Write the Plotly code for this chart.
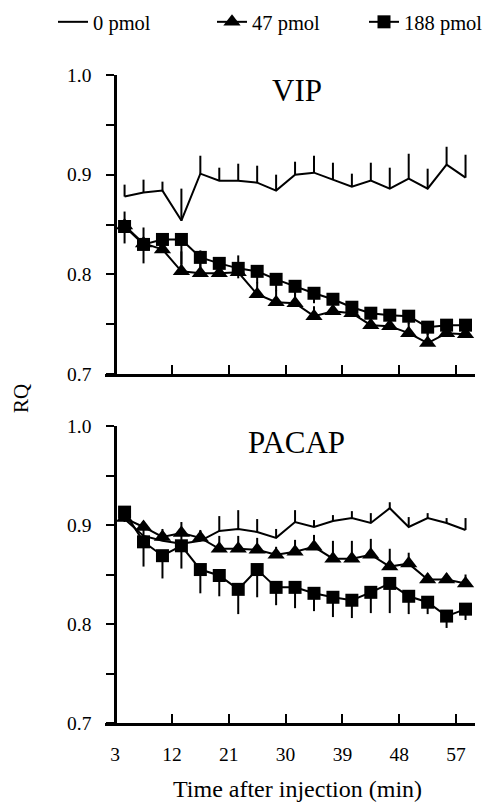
import plotly.graph_objects as go
from plotly.subplots import make_subplots

# time points (min after injection)
time_min = [4.5, 7.5, 10.5, 13.5, 16.5, 19.5, 22.5, 25.5, 28.5, 31.5,
            34.5, 37.5, 40.5, 43.5, 46.5, 49.5, 52.5, 55.5, 58.5]

# VIP panel
vip_0 = [0.878, 0.882, 0.884, 0.854, 0.901, 0.894, 0.894, 0.892, 0.884, 0.900,
         0.902, 0.895, 0.888, 0.894, 0.886, 0.896, 0.886, 0.910, 0.897]
vip_0_err = [0.012, 0.013, 0.009, 0.032, 0.018, 0.013, 0.017, 0.017, 0.016, 0.013,
             0.017, 0.017, 0.013, 0.018, 0.021, 0.025, 0.020, 0.018, 0.023]
vip_47 = [0.849, 0.831, 0.825, 0.803, 0.801, 0.801, 0.802, 0.780, 0.772, 0.771,
          0.758, 0.763, 0.761, 0.749, 0.748, 0.741, 0.731, 0.741, 0.740]
vip_47_err = [0.014, 0.016, 0.008, 0.020, 0.023, 0.008, 0.017, 0.012, 0.012, 0.012,
              0.010, 0.010, 0.010, 0.010, 0.010, 0.010, 0.010, 0.010, 0.008]
vip_188 = [0.848, 0.830, 0.835, 0.835, 0.817, 0.811, 0.806, 0.803, 0.795, 0.788,
           0.781, 0.775, 0.767, 0.761, 0.759, 0.758, 0.747, 0.749, 0.749]
vip_188_err = [0.017, 0.019, 0.010, 0.025, 0.010, 0.010, 0.010, 0.012, 0.012, 0.012,
               0.010, 0.010, 0.008, 0.008, 0.008, 0.008, 0.008, 0.006, 0.006]

# PACAP panel
pacap_0 = [0.906, 0.889, 0.884, 0.881, 0.884, 0.894, 0.896, 0.893, 0.887, 0.903,
           0.898, 0.904, 0.907, 0.902, 0.917, 0.898, 0.907, 0.902, 0.895]
pacap_0_err = [0.008, 0.010, 0.008, 0.010, 0.010, 0.015, 0.019, 0.013, 0.009, 0.012,
               0.007, 0.006, 0.007, 0.010, 0.006, 0.010, 0.005, 0.005, 0.012]
pacap_47 = [0.907, 0.898, 0.888, 0.892, 0.887, 0.876, 0.876, 0.875, 0.870, 0.873,
            0.878, 0.866, 0.866, 0.870, 0.858, 0.861, 0.845, 0.845, 0.841]
pacap_47_err = [0.008, 0.006, 0.008, 0.011, 0.008, 0.013, 0.013, 0.012, 0.008, 0.012,
                0.012, 0.018, 0.018, 0.016, 0.018, 0.011, 0.006, 0.006, 0.009]
pacap_188 = [0.913, 0.883, 0.869, 0.879, 0.855, 0.849, 0.835, 0.855, 0.837, 0.837,
             0.831, 0.827, 0.824, 0.832, 0.841, 0.828, 0.822, 0.808, 0.815]
pacap_188_err = [0.010, 0.025, 0.023, 0.023, 0.024, 0.021, 0.025, 0.028, 0.018, 0.021,
                 0.018, 0.020, 0.018, 0.021, 0.030, 0.018, 0.012, 0.012, 0.011]

x_ticks = [3, 12, 21, 30, 39, 48, 57]
y_ticks = [0.7, 0.75, 0.8, 0.85, 0.9, 0.95, 1.0]
y_ticktext = ["0.7", "", "0.8", "", "0.9", "", "1.0"]

FONT = "Liberation Serif"
# page body has an 8px margin, so the figure is drawn 8px smaller and shifted
PAGE_OFF = 8
W, H = 491 - PAGE_OFF, 802 - PAGE_OFF
X_RANGE = [1.4, 60.0]

R_MARGIN = 16
AREA_W = W - R_MARGIN


def px_x(p):
    # page pixel -> paper x
    return (p - PAGE_OFF) / AREA_W


def px_y(p):
    # page pixel -> paper y
    return 1 - (p - PAGE_OFF) / H


x_dom = [px_x(105), 1.0]
top_dom = [px_y(374), px_y(75)]
bot_dom = [px_y(723), px_y(426)]

fig = make_subplots(rows=2, cols=1)


def add_panel(row, d0, e0, d47, e47, d188, e188, show):
    # 0 pmol: plain line, upward error bars
    fig.add_trace(go.Scatter(
        x=time_min, y=d0, mode="lines", name="0 pmol", showlegend=show, legend="legend",
        line=dict(color="black", width=2),
        error_y=dict(type="data", symmetric=False, array=e0,
                     arrayminus=[0] * len(e0), color="black", thickness=2, width=0)
    ), row=row, col=1)
    # 47 pmol: triangles, upward error bars
    fig.add_trace(go.Scatter(
        x=time_min, y=d47, mode="lines+markers", name="47 pmol", showlegend=show,
        legend="legend2",
        line=dict(color="black", width=2),
        marker=dict(symbol="triangle-up", size=15, color="black"),
        error_y=dict(type="data", symmetric=False, array=e47,
                     arrayminus=[0] * len(e47), color="black", thickness=2, width=0)
    ), row=row, col=1)
    # 188 pmol: squares, downward error bars
    fig.add_trace(go.Scatter(
        x=time_min, y=d188, mode="lines+markers", name="188 pmol", showlegend=show,
        legend="legend3",
        line=dict(color="black", width=2),
        marker=dict(symbol="square", size=13, color="black"),
        error_y=dict(type="data", symmetric=False, array=[0] * len(e188),
                     arrayminus=e188, color="black", thickness=2, width=0)
    ), row=row, col=1)


add_panel(1, vip_0, vip_0_err, vip_47, vip_47_err, vip_188, vip_188_err, True)
add_panel(2, pacap_0, pacap_0_err, pacap_47, pacap_47_err, pacap_188, pacap_188_err, False)

# y axis sits at t = 3 while the x axis line runs a little further left
frac = (3 - X_RANGE[0]) / (X_RANGE[1] - X_RANGE[0])
yaxis_pos = x_dom[0] + frac * (x_dom[1] - x_dom[0])

axis_common = dict(showgrid=False, zeroline=False, showline=True, automargin=False,
                   linecolor="black", linewidth=2.5, tickcolor="black", tickwidth=2,
                   tickfont=dict(family=FONT, size=19.5, color="black"))

fig.update_xaxes(range=X_RANGE, tickvals=x_ticks, ticks="inside", ticklen=9,
                 domain=x_dom, **axis_common)
fig.update_xaxes(showticklabels=False, row=1, col=1)
fig.update_xaxes(ticklabelstandoff=12, row=2, col=1)
fig.update_yaxes(range=[0.7, 1.0], tickvals=y_ticks, ticktext=y_ticktext,
                 ticks="outside", ticklen=8, ticklabelstandoff=11,
                 anchor="free", position=yaxis_pos, **axis_common)


def legend_at(px):
    return dict(orientation="h", x=px_x(px), xanchor="left", y=px_y(22), yanchor="middle",
                font=dict(family=FONT, size=20.5, color="black"),
                bgcolor="rgba(0,0,0,0)")


def label(text, x, y, size, angle=0):
    return dict(text=text, x=px_x(x), y=px_y(y), xref="paper", yref="paper",
                xanchor="center", yanchor="middle", textangle=angle,
                showarrow=False, font=dict(family=FONT, size=size))


fig.update_layout(
    width=W, height=H,
    margin=dict(l=0, r=R_MARGIN, t=0, b=0, autoexpand=False),
    plot_bgcolor="white", paper_bgcolor="white",
    font=dict(family=FONT, color="black"),
    yaxis=dict(domain=top_dom),
    yaxis2=dict(domain=bot_dom),
    legend=legend_at(53),
    legend2=legend_at(212),
    legend3=legend_at(364),
    annotations=[
        label("VIP", 297, 90, 31),
        label("PACAP", 296, 442, 31),
        label("RQ", 21, 399, 21, angle=-90),
        label("Time after injection (min)", 297, 789, 24),
    ],
)

fig.write_html("out.html")
